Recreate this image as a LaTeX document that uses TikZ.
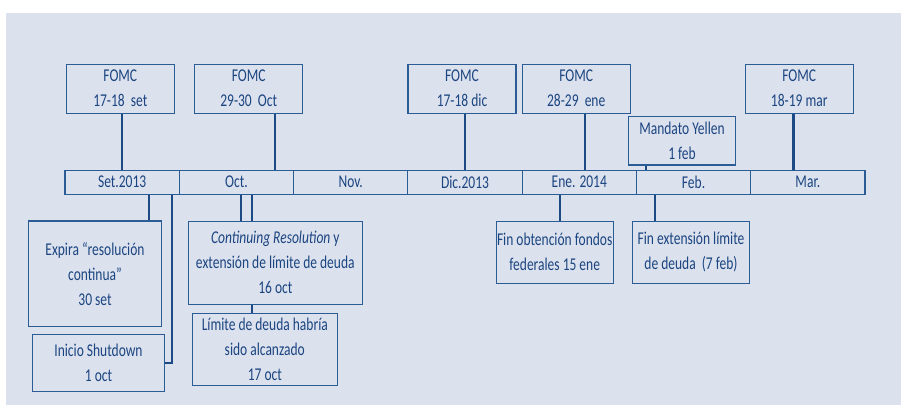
\documentclass[tikz,border=0pt]{standalone}
\usepackage{fontspec}
\setmainfont[FakeStretch=0.75]{Carlito}
\definecolor{bgc}{HTML}{DCE1EE}
\definecolor{boxc}{HTML}{2C5C96}
\definecolor{linec}{HTML}{1B4A85}
\definecolor{txtc}{HTML}{1B4580}
\tikzset{
  evbox/.style={draw=boxc, line width=1.1pt, text=txtc, align=center, inner sep=0pt,
    font=\fontsize{18}{25}\selectfont},
  fomcbox/.style={evbox, minimum width=108pt, minimum height=49pt},
  monthbox/.style={evbox, minimum width=114.29pt, minimum height=24.3pt},
  conn/.style={draw=linec, line width=2.4pt},
}
\begin{document}
\begin{tikzpicture}[x=1pt, y=-1pt]
\useasboundingbox (0,0) rectangle (901,405);
\fill[bgc] (6,13) rectangle (901,405);
% FOMC boxes
\node[fomcbox] (f1) at (120.3,88.7) {FOMC\\17-18\ \ set};
\node[fomcbox] (f2) at (248.7,88.7) {FOMC\\29-30\ \ Oct};
\node[fomcbox] (f3) at (462,88.7) {FOMC\\17-18 dic};
\node[fomcbox] (f4) at (576.2,88.7) {FOMC\\28-29\ \ ene};
\node[fomcbox] (f5) at (799.2,88.7) {FOMC\\18-19 mar};
\node[evbox, minimum width=107.3pt, minimum height=48.3pt] (yel) at (682,140.8) {Mandato Yellen\\1 feb};
% months
\node[monthbox] (set) at (122.14,182.2) {Set.2013};
\node[monthbox] (oct) at (236.43,182.2) {Oct.};
\node[monthbox] (nov) at (350.71,182.2) {Nov.};
\node[monthbox] (dic) at (465.0,182.2) {Dic.2013};
\node[monthbox] (ene) at (579.29,182.2) {Ene. 2014};
\node[monthbox] (feb) at (693.57,182.2) {Feb.};
\node[monthbox] (mar) at (807.86,182.2) {Mar.};
% lower boxes
\node[evbox, minimum width=132.7pt, minimum height=105.7pt] (exp) at (95,273.8) {Expira “resolución\\continua”\\30 set};
\node[evbox, minimum width=132.3pt, minimum height=56.7pt] (ini) at (98.5,362.7) {Inicio Shutdown\\1 oct};
\node[evbox, minimum width=174pt, minimum height=83.3pt] (cr) at (275.3,262.7) {\textit{Continuing Resolution} y\\extensión de límite de deuda\\16 oct};
\node[evbox, minimum width=145pt, minimum height=71.7pt] (lim) at (264.8,349.2) {Límite de deuda habría\\sido alcanzado\\17 oct};
\node[evbox, minimum width=117.3pt, minimum height=62.3pt] (fob) at (554.7,252.2) {Fin obtención fondos\\federales 15 ene};
\node[evbox, minimum width=117.3pt, minimum height=62.3pt] (fext) at (691,252.2) {Fin extensión límite\\de deuda\ \ (7 feb)};
% connectors above
\draw[conn] ([xshift=1.7pt]f1.south) -- ([xshift=1.7pt]f1.south |- set.north);
\draw[conn] ([xshift=26.3pt]f2.south) -- ([xshift=26.3pt]f2.south |- oct.north);
\draw[conn] ([xshift=3pt]f3.south) -- ([xshift=3pt]f3.south |- dic.north);
\draw[conn] ([xshift=8.8pt]f4.south) -- ([xshift=8.8pt]f4.south |- ene.north);
\draw[conn] ([xshift=-5.9pt]f5.south) -- ([xshift=-5.9pt]f5.south |- mar.north);
\draw[conn] ([xshift=-36pt]yel.south) -- ([xshift=-36pt]yel.south |- feb.north);
% connectors below
\draw[conn] ([xshift=54pt]exp.north) -- ([xshift=54pt]exp.north |- set.south);
\draw[conn] (ini.east) -| ([xshift=49.9pt]set.south);
\draw[conn] ([xshift=4.3pt]oct.south) -- ([xshift=4.3pt]oct.south |- cr.north);
\draw[conn] ([xshift=15.3pt]oct.south) -- ([xshift=15.3pt]oct.south |- cr.north);
\draw[conn] ([xshift=-23.6pt]cr.south) -- ([xshift=-23.6pt]cr.south |- lim.north);
\draw[conn] ([xshift=-19.1pt]ene.south) -- ([xshift=-19.1pt]ene.south |- fob.north);
\draw[conn] ([xshift=-38.6pt]feb.south) -- ([xshift=-38.6pt]feb.south |- fext.north);
\end{tikzpicture}
\end{document}
